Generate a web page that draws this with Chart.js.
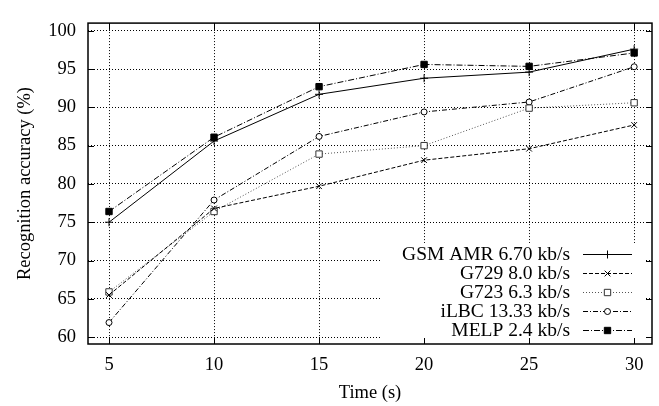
<!DOCTYPE html>
<html>
<head>
<meta charset="utf-8">
<script src="https://cdn.jsdelivr.net/npm/chart.js"></script>
<style>
  html, body { margin: 0; padding: 0; background: #fff; }
  #wrap { width: 659px; height: 406px; position: relative; }
</style>
</head>
<body>
<div id="wrap"><canvas id="chart"></canvas></div>
<script>
// data
const times = [5, 10, 15, 20, 25, 30];
const gsmAmr = [75.0, 85.6, 91.7, 93.8, 94.6, 97.6];
const g729 = [65.5, 76.8, 79.7, 83.1, 84.6, 87.7];
const g723 = [65.9, 76.4, 83.9, 85.0, 89.9, 90.6];
const ilbc = [61.9, 77.9, 86.2, 89.4, 90.7, 95.3];
const melp = [76.4, 86.1, 92.7, 95.6, 95.35, 97.1];
const yTicks = [60, 65, 70, 75, 80, 85, 90, 95, 100];
const xTicks = [5, 10, 15, 20, 25, 30];

const FONT = 'Liberation Serif, "Times New Roman", serif';

function pts(vals){ return times.map((t, i) => ({ x: t, y: vals[i] })); }

const datasets = [
    { label: 'GSM AMR 6.70 kb/s', data: pts(gsmAmr), borderColor: '#000', borderDash: [],
      pointStyle: 'cross', pointRadius: 4, pointBorderWidth: 1, pointBackgroundColor: '#000', pointBorderColor: '#000' },
    { label: 'G729 8.0 kb/s', data: pts(g729), borderColor: '#000', borderDash: [4, 2],
      pointStyle: 'crossRot', pointRadius: 4, pointBorderWidth: 1, pointBackgroundColor: '#000', pointBorderColor: '#000' },
    { label: 'G723 6.3 kb/s', data: pts(g723), borderColor: '#555', borderDash: [1, 2],
      pointStyle: 'rect', pointRadius: 4.5, pointBorderWidth: 1, pointBackgroundColor: '#fff', pointBorderColor: '#333' },
    { label: 'iLBC 13.33 kb/s', data: pts(ilbc), borderColor: '#000', borderDash: [5, 2, 1, 2],
      pointStyle: 'circle', pointRadius: 3, pointBorderWidth: 1, pointBackgroundColor: '#fff', pointBorderColor: '#000' },
    { label: 'MELP 2.4 kb/s', data: pts(melp), borderColor: '#000', borderDash: [6, 2, 1, 2],
      pointStyle: 'rect', pointRadius: 4.5, pointBorderWidth: 1, pointBackgroundColor: '#000', pointBorderColor: '#000' }
];
datasets.forEach(d => { d.borderWidth = 1; d.fill = false; d.tension = 0; });

// legend drawn gnuplot style: text right aligned, sample on the right
const gnuLegend = {
    id: 'gnuLegend',
    afterDatasetsDraw(chart){
        const ctx = chart.ctx;
        ctx.save();
        ctx.fillStyle = '#fff';
        ctx.fillRect(380, 243, 265, 98);
        ctx.font = '19.5px ' + FONT;
        ctx.textAlign = 'right';
        ctx.textBaseline = 'middle';
        chart.data.datasets.forEach((d, i) => {
            const y = 254 + i * 19;
            ctx.fillStyle = '#000';
            ctx.fillText(d.label, 570, y + 1);
            ctx.strokeStyle = d.borderColor;
            ctx.lineWidth = 1;
            ctx.setLineDash(d.borderDash);
            ctx.beginPath();
            ctx.moveTo(583, y + 0.5);
            ctx.lineTo(632, y + 0.5);
            ctx.stroke();
            ctx.setLineDash([]);
            ctx.fillStyle = d.pointBackgroundColor;
            ctx.strokeStyle = d.pointBorderColor;
            Chart.helpers.drawPoint(ctx, { pointStyle: d.pointStyle, radius: d.pointRadius, borderWidth: 1, rotation: 0 }, 607.5, y + 0.5);
        });
        ctx.restore();
    },
    afterDraw(chart){
        const ctx = chart.ctx;
        const a = chart.chartArea;
        const xs = chart.scales.x, ys = chart.scales.y;
        ctx.save();
        ctx.strokeStyle = '#000';
        ctx.lineWidth = 1.5;
        ctx.setLineDash([]);
        ctx.strokeRect(a.left, a.top, a.right - a.left, a.bottom - a.top);
        ctx.lineWidth = 1;
        ctx.beginPath();
        xTicks.forEach(v => {
            const px = Math.round(xs.getPixelForValue(v)) + 0.5;
            ctx.moveTo(px, a.bottom); ctx.lineTo(px, a.bottom - 6);
            ctx.moveTo(px, a.top); ctx.lineTo(px, a.top + 6);
        });
        yTicks.forEach(v => {
            const py = Math.round(ys.getPixelForValue(v)) + 0.5;
            ctx.moveTo(a.left, py); ctx.lineTo(a.left + 6, py);
            ctx.moveTo(a.right, py); ctx.lineTo(a.right - 6, py);
        });
        ctx.stroke();
        ctx.restore();
    }
};

new Chart(document.getElementById('chart'), {
    type: 'line',
    data: { datasets },
    options: {
        responsive: true,
        maintainAspectRatio: false,
        animation: false,
        layout: { padding: { top: 4, right: 7, left: 0, bottom: 0 } },
        plugins: { legend: { display: false }, tooltip: { enabled: false } },
        scales: {
            x: {
                type: 'linear', position: 'bottom', min: 4, max: 30.85,
                afterBuildTicks: s => { s.ticks = xTicks.map(v => ({ value: v })); },
                afterFit: s => { s.height = 62; },
                grid: { color: '#000', lineWidth: 1, drawTicks: false },
                border: { display: false, dash: [1, 2] },
                ticks: { color: '#000', padding: 10, maxRotation: 0, font: { family: FONT, size: 18.5 } },
                title: { display: true, text: 'Time (s)', color: '#000', padding: { top: 0, bottom: 2 },
                         font: { family: FONT, size: 18.5 } }
            },
            y: {
                type: 'linear', min: 59.1, max: 101,
                afterBuildTicks: s => { s.ticks = yTicks.map(v => ({ value: v })); },
                afterFit: s => { s.width = 88; },
                grid: { color: '#000', lineWidth: 1, drawTicks: false },
                border: { display: false, dash: [1, 2] },
                ticks: { color: '#000', padding: 12, font: { family: FONT, size: 18.5 } },
                title: { display: true, text: 'Recognition accuracy (%)', color: '#000', padding: { top: 14, bottom: 0 },
                         font: { family: FONT, size: 18.5 } }
            }
        }
    },
    plugins: [gnuLegend]
});
</script>
</body>
</html>
